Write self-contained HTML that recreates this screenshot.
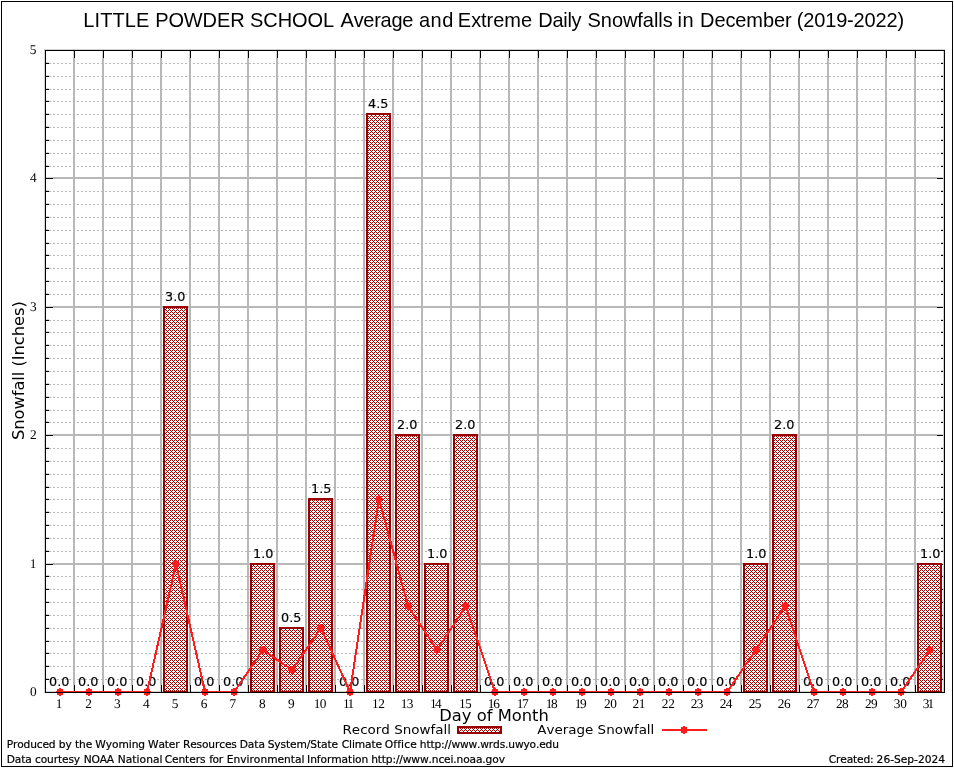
<!DOCTYPE html>
<html lang="en"><head><meta charset="utf-8">
<title>LITTLE POWDER SCHOOL Average and Extreme Daily Snowfalls in December (2019-2022)</title>
<style>
html,body{margin:0;padding:0;background:#fff;}
body{width:954px;height:768px;overflow:hidden;}
svg{display:block;}
text{fill:#000;font-kerning:none;font-variant-ligatures:none;white-space:pre;}
.t{font-family:"Liberation Sans",sans-serif;font-size:20px;}
.k{font-family:"Liberation Serif",serif;font-size:13.33px;text-rendering:geometricPrecision;}
.d{font-family:"DejaVu Sans","Liberation Sans",sans-serif;font-size:12px;stroke:#000;stroke-width:0.15px;}
.a{font-family:"DejaVu Sans","Liberation Sans",sans-serif;font-size:16px;}
.l{font-family:"DejaVu Sans","Liberation Sans",sans-serif;font-size:12px;}
.f{font-family:"DejaVu Sans","Liberation Sans",sans-serif;font-size:10.67px;stroke:#000;stroke-width:0.2px;}
</style></head><body>
<svg width="954" height="768" viewBox="0 0 954 768">
<defs><pattern id="h" x="0" y="0" width="4" height="4" patternUnits="userSpaceOnUse"><rect width="4" height="4" fill="#fff"/><path d="M0 0h1v1h-1zM2 0h1v1h-1zM1 1h1v1h-1zM0 2h1v1h-1zM2 2h1v1h-1zM3 3h1v1h-1z" fill="#990000"/></pattern></defs>
<rect x="0" y="0" width="954" height="768" fill="#fff"/>
<g id="chart">
<rect x="2" y="2" width="950" height="764" fill="#fff"/>
<g id="grid" shape-rendering="crispEdges" fill="none">
<path d="M49 679.5H944M49 666.5H944M49 653.5H944M49 641.5H944M49 628.5H944M49 615.5H944M49 602.5H944M49 589.5H944M49 576.5H944M49 551.5H944M49 538.5H944M49 525.5H944M49 512.5H944M49 499.5H944M49 487.5H944M49 474.5H944M49 461.5H944M49 448.5H944M49 422.5H944M49 410.5H944M49 397.5H944M49 384.5H944M49 371.5H944M49 358.5H944M49 345.5H944M49 332.5H944M49 320.5H944M49 294.5H944M49 281.5H944M49 268.5H944M49 255.5H944M49 243.5H944M49 230.5H944M49 217.5H944M49 204.5H944M49 191.5H944M49 166.5H944M49 153.5H944M49 140.5H944M49 127.5H944M49 114.5H944M49 101.5H944M49 89.5H944M49 76.5H944M49 63.5H944" stroke="#b8b8b8" stroke-width="1" stroke-dasharray="2 2"/>
<path d="M74 684v1M103 684v1M132 684v1M161 684v1M190 684v1M219 684v1M248 684v1M277 684v1M306 684v1M335 684v1M364 684v1M393 684v1M422 684v1M451 684v1M480 684v1M509 684v1M538 684v1M567 684v1M596 684v1M625 684v1M654 684v1M683 684v1M712 684v1M741 684v1M770 684v1M799 684v1M828 684v1M857 684v1M886 684v1M915 684v1M53 564h1M936 564h1M53 435h1M936 435h1M53 307h1M936 307h1M53 178h1M936 178h1" stroke="#b8b8b8" stroke-width="2"/>
<path d="M74 58V684M103 58V684M132 58V684M161 58V684M190 58V684M219 58V684M248 58V684M277 58V684M306 58V684M335 58V684M364 58V684M393 58V684M422 58V684M451 58V684M480 58V684M509 58V684M538 58V684M567 58V684M596 58V684M625 58V684M654 58V684M683 58V684M712 58V684M741 58V684M770 58V684M799 58V684M828 58V684M857 58V684M886 58V684M915 58V684M54 564H936M54 435H936M54 307H936M54 178H936" stroke="#b8b8b8" stroke-width="2"/>
</g>
<g id="ticks" shape-rendering="crispEdges" fill="none" stroke="#000" stroke-width="1">
<path d="M73.5 51v7M73.5 692v-7M102.5 51v7M102.5 692v-7M131.5 51v7M131.5 692v-7M160.5 51v7M160.5 692v-7M189.5 51v7M189.5 692v-7M218.5 51v7M218.5 692v-7M247.5 51v7M247.5 692v-7M276.5 51v7M276.5 692v-7M305.5 51v7M305.5 692v-7M334.5 51v7M334.5 692v-7M363.5 51v7M363.5 692v-7M392.5 51v7M392.5 692v-7M421.5 51v7M421.5 692v-7M450.5 51v7M450.5 692v-7M479.5 51v7M479.5 692v-7M508.5 51v7M508.5 692v-7M537.5 51v7M537.5 692v-7M566.5 51v7M566.5 692v-7M595.5 51v7M595.5 692v-7M624.5 51v7M624.5 692v-7M653.5 51v7M653.5 692v-7M682.5 51v7M682.5 692v-7M711.5 51v7M711.5 692v-7M740.5 51v7M740.5 692v-7M769.5 51v7M769.5 692v-7M798.5 51v7M798.5 692v-7M827.5 51v7M827.5 692v-7M856.5 51v7M856.5 692v-7M885.5 51v7M885.5 692v-7M914.5 51v7M914.5 692v-7M46 678.5h3M943 678.5h-2M46 665.5h3M943 665.5h-2M46 652.5h3M943 652.5h-2M46 640.5h3M943 640.5h-2M46 627.5h3M943 627.5h-2M46 614.5h3M943 614.5h-2M46 601.5h3M943 601.5h-2M46 588.5h3M943 588.5h-2M46 575.5h3M943 575.5h-2M46 563.5h7M943 563.5h-6M46 550.5h3M943 550.5h-2M46 537.5h3M943 537.5h-2M46 524.5h3M943 524.5h-2M46 511.5h3M943 511.5h-2M46 498.5h3M943 498.5h-2M46 486.5h3M943 486.5h-2M46 473.5h3M943 473.5h-2M46 460.5h3M943 460.5h-2M46 447.5h3M943 447.5h-2M46 434.5h7M943 434.5h-6M46 421.5h3M943 421.5h-2M46 409.5h3M943 409.5h-2M46 396.5h3M943 396.5h-2M46 383.5h3M943 383.5h-2M46 370.5h3M943 370.5h-2M46 357.5h3M943 357.5h-2M46 344.5h3M943 344.5h-2M46 331.5h3M943 331.5h-2M46 319.5h3M943 319.5h-2M46 306.5h7M943 306.5h-6M46 293.5h3M943 293.5h-2M46 280.5h3M943 280.5h-2M46 267.5h3M943 267.5h-2M46 254.5h3M943 254.5h-2M46 242.5h3M943 242.5h-2M46 229.5h3M943 229.5h-2M46 216.5h3M943 216.5h-2M46 203.5h3M943 203.5h-2M46 190.5h3M943 190.5h-2M46 177.5h7M943 177.5h-6M46 165.5h3M943 165.5h-2M46 152.5h3M943 152.5h-2M46 139.5h3M943 139.5h-2M46 126.5h3M943 126.5h-2M46 113.5h3M943 113.5h-2M46 100.5h3M943 100.5h-2M46 88.5h3M943 88.5h-2M46 75.5h3M943 75.5h-2M46 62.5h3M943 62.5h-2M44.5 49V693M943.5 51V692M45 49.5H945M46 691.5H943" stroke-opacity="0.18"/>
<path d="M74.5 50v8M74.5 693v-8M103.5 50v8M103.5 693v-8M132.5 50v8M132.5 693v-8M161.5 50v8M161.5 693v-8M190.5 50v8M190.5 693v-8M219.5 50v8M219.5 693v-8M248.5 50v8M248.5 693v-8M277.5 50v8M277.5 693v-8M306.5 50v8M306.5 693v-8M335.5 50v8M335.5 693v-8M364.5 50v8M364.5 693v-8M393.5 50v8M393.5 693v-8M422.5 50v8M422.5 693v-8M451.5 50v8M451.5 693v-8M480.5 50v8M480.5 693v-8M509.5 50v8M509.5 693v-8M538.5 50v8M538.5 693v-8M567.5 50v8M567.5 693v-8M596.5 50v8M596.5 693v-8M625.5 50v8M625.5 693v-8M654.5 50v8M654.5 693v-8M683.5 50v8M683.5 693v-8M712.5 50v8M712.5 693v-8M741.5 50v8M741.5 693v-8M770.5 50v8M770.5 693v-8M799.5 50v8M799.5 693v-8M828.5 50v8M828.5 693v-8M857.5 50v8M857.5 693v-8M886.5 50v8M886.5 693v-8M915.5 50v8M915.5 693v-8M45 692.5h8M943 692.5h-6M45 679.5h4M943 679.5h-2M45 666.5h4M943 666.5h-2M45 653.5h4M943 653.5h-2M45 641.5h4M943 641.5h-2M45 628.5h4M943 628.5h-2M45 615.5h4M943 615.5h-2M45 602.5h4M943 602.5h-2M45 589.5h4M943 589.5h-2M45 576.5h4M943 576.5h-2M45 564.5h8M943 564.5h-6M45 551.5h4M943 551.5h-2M45 538.5h4M943 538.5h-2M45 525.5h4M943 525.5h-2M45 512.5h4M943 512.5h-2M45 499.5h4M943 499.5h-2M45 487.5h4M943 487.5h-2M45 474.5h4M943 474.5h-2M45 461.5h4M943 461.5h-2M45 448.5h4M943 448.5h-2M45 435.5h8M943 435.5h-6M45 422.5h4M943 422.5h-2M45 410.5h4M943 410.5h-2M45 397.5h4M943 397.5h-2M45 384.5h4M943 384.5h-2M45 371.5h4M943 371.5h-2M45 358.5h4M943 358.5h-2M45 345.5h4M943 345.5h-2M45 332.5h4M943 332.5h-2M45 320.5h4M943 320.5h-2M45 307.5h8M943 307.5h-6M45 294.5h4M943 294.5h-2M45 281.5h4M943 281.5h-2M45 268.5h4M943 268.5h-2M45 255.5h4M943 255.5h-2M45 243.5h4M943 243.5h-2M45 230.5h4M943 230.5h-2M45 217.5h4M943 217.5h-2M45 204.5h4M943 204.5h-2M45 191.5h4M943 191.5h-2M45 178.5h8M943 178.5h-6M45 166.5h4M943 166.5h-2M45 153.5h4M943 153.5h-2M45 140.5h4M943 140.5h-2M45 127.5h4M943 127.5h-2M45 114.5h4M943 114.5h-2M45 101.5h4M943 101.5h-2M45 89.5h4M943 89.5h-2M45 76.5h4M943 76.5h-2M45 63.5h4M943 63.5h-2M45 50.5h8M943 50.5h-6"/>
</g>
<g id="bars" shape-rendering="crispEdges" fill="url(#h)" stroke="#990000" stroke-width="2">
<rect x="164" y="307" width="23" height="385"/>
<rect x="251" y="564" width="23" height="128"/>
<rect x="280" y="628" width="23" height="64"/>
<rect x="309" y="499" width="23" height="193"/>
<rect x="367" y="114" width="23" height="578"/>
<rect x="396" y="435" width="23" height="257"/>
<rect x="425" y="564" width="23" height="128"/>
<rect x="454" y="435" width="23" height="257"/>
<rect x="744" y="564" width="23" height="128"/>
<rect x="773" y="435" width="23" height="257"/>
<rect x="918" y="564" width="23" height="128"/>
</g>
<g id="values" class="d">
<text x="49" y="686" textLength="20.4" lengthAdjust="spacingAndGlyphs">0.0</text>
<text x="78" y="686" textLength="20.4" lengthAdjust="spacingAndGlyphs">0.0</text>
<text x="107" y="686" textLength="20.4" lengthAdjust="spacingAndGlyphs">0.0</text>
<text x="136" y="686" textLength="20.4" lengthAdjust="spacingAndGlyphs">0.0</text>
<text x="165" y="301" textLength="20.4" lengthAdjust="spacingAndGlyphs">3.0</text>
<text x="194" y="686" textLength="20.4" lengthAdjust="spacingAndGlyphs">0.0</text>
<text x="223" y="686" textLength="20.4" lengthAdjust="spacingAndGlyphs">0.0</text>
<text x="253.1" y="558" textLength="20.4" lengthAdjust="spacingAndGlyphs">1.0</text>
<text x="281" y="622" textLength="20.4" lengthAdjust="spacingAndGlyphs">0.5</text>
<text x="311.1" y="493" textLength="20.4" lengthAdjust="spacingAndGlyphs">1.5</text>
<text x="339" y="686" textLength="20.4" lengthAdjust="spacingAndGlyphs">0.0</text>
<text x="368" y="108" textLength="20.4" lengthAdjust="spacingAndGlyphs">4.5</text>
<text x="397" y="429" textLength="20.4" lengthAdjust="spacingAndGlyphs">2.0</text>
<text x="427.1" y="558" textLength="20.4" lengthAdjust="spacingAndGlyphs">1.0</text>
<text x="455" y="429" textLength="20.4" lengthAdjust="spacingAndGlyphs">2.0</text>
<text x="484" y="686" textLength="20.4" lengthAdjust="spacingAndGlyphs">0.0</text>
<text x="513" y="686" textLength="20.4" lengthAdjust="spacingAndGlyphs">0.0</text>
<text x="542" y="686" textLength="20.4" lengthAdjust="spacingAndGlyphs">0.0</text>
<text x="571" y="686" textLength="20.4" lengthAdjust="spacingAndGlyphs">0.0</text>
<text x="600" y="686" textLength="20.4" lengthAdjust="spacingAndGlyphs">0.0</text>
<text x="629" y="686" textLength="20.4" lengthAdjust="spacingAndGlyphs">0.0</text>
<text x="658" y="686" textLength="20.4" lengthAdjust="spacingAndGlyphs">0.0</text>
<text x="687" y="686" textLength="20.4" lengthAdjust="spacingAndGlyphs">0.0</text>
<text x="716" y="686" textLength="20.4" lengthAdjust="spacingAndGlyphs">0.0</text>
<text x="746.1" y="558" textLength="20.4" lengthAdjust="spacingAndGlyphs">1.0</text>
<text x="774" y="429" textLength="20.4" lengthAdjust="spacingAndGlyphs">2.0</text>
<text x="803" y="686" textLength="20.4" lengthAdjust="spacingAndGlyphs">0.0</text>
<text x="832" y="686" textLength="20.4" lengthAdjust="spacingAndGlyphs">0.0</text>
<text x="861" y="686" textLength="20.4" lengthAdjust="spacingAndGlyphs">0.0</text>
<text x="890" y="686" textLength="20.4" lengthAdjust="spacingAndGlyphs">0.0</text>
<text x="920.1" y="558" textLength="20.4" lengthAdjust="spacingAndGlyphs">1.0</text>
</g>
<g id="avg" shape-rendering="crispEdges">
<polyline points="60,692 89,692 118,692 147,692 176,564 205,692 234,692 263,650 292,670 321,628 350,692 379,499 408,606 437,650 466,606 495,692 524,692 553,692 582,692 611,692 640,692 669,692 698,692 727,692 756,650 785,606 814,692 843,692 872,692 901,692 930,650" fill="none" stroke="#ff1c1c" stroke-width="2" stroke-linejoin="round"/>
<path transform="translate(60 692)" d="M-1 -4h2v1h2v2h1v2h-1v2h-2v1h-2v-1h-2v-2h-1v-2h1v-2h2z" fill="#ff1c1c"/>
<path transform="translate(89 692)" d="M-1 -4h2v1h2v2h1v2h-1v2h-2v1h-2v-1h-2v-2h-1v-2h1v-2h2z" fill="#ff1c1c"/>
<path transform="translate(118 692)" d="M-1 -4h2v1h2v2h1v2h-1v2h-2v1h-2v-1h-2v-2h-1v-2h1v-2h2z" fill="#ff1c1c"/>
<path transform="translate(147 692)" d="M-1 -4h2v1h2v2h1v2h-1v2h-2v1h-2v-1h-2v-2h-1v-2h1v-2h2z" fill="#ff1c1c"/>
<path transform="translate(176 564)" d="M-1 -4h2v1h2v2h1v2h-1v2h-2v1h-2v-1h-2v-2h-1v-2h1v-2h2z" fill="#ff1c1c"/>
<path transform="translate(205 692)" d="M-1 -4h2v1h2v2h1v2h-1v2h-2v1h-2v-1h-2v-2h-1v-2h1v-2h2z" fill="#ff1c1c"/>
<path transform="translate(234 692)" d="M-1 -4h2v1h2v2h1v2h-1v2h-2v1h-2v-1h-2v-2h-1v-2h1v-2h2z" fill="#ff1c1c"/>
<path transform="translate(263 650)" d="M-1 -4h2v1h2v2h1v2h-1v2h-2v1h-2v-1h-2v-2h-1v-2h1v-2h2z" fill="#ff1c1c"/>
<path transform="translate(292 670)" d="M-1 -4h2v1h2v2h1v2h-1v2h-2v1h-2v-1h-2v-2h-1v-2h1v-2h2z" fill="#ff1c1c"/>
<path transform="translate(321 628)" d="M-1 -4h2v1h2v2h1v2h-1v2h-2v1h-2v-1h-2v-2h-1v-2h1v-2h2z" fill="#ff1c1c"/>
<path transform="translate(350 692)" d="M-1 -4h2v1h2v2h1v2h-1v2h-2v1h-2v-1h-2v-2h-1v-2h1v-2h2z" fill="#ff1c1c"/>
<path transform="translate(379 499)" d="M-1 -4h2v1h2v2h1v2h-1v2h-2v1h-2v-1h-2v-2h-1v-2h1v-2h2z" fill="#ff1c1c"/>
<path transform="translate(408 606)" d="M-1 -4h2v1h2v2h1v2h-1v2h-2v1h-2v-1h-2v-2h-1v-2h1v-2h2z" fill="#ff1c1c"/>
<path transform="translate(437 650)" d="M-1 -4h2v1h2v2h1v2h-1v2h-2v1h-2v-1h-2v-2h-1v-2h1v-2h2z" fill="#ff1c1c"/>
<path transform="translate(466 606)" d="M-1 -4h2v1h2v2h1v2h-1v2h-2v1h-2v-1h-2v-2h-1v-2h1v-2h2z" fill="#ff1c1c"/>
<path transform="translate(495 692)" d="M-1 -4h2v1h2v2h1v2h-1v2h-2v1h-2v-1h-2v-2h-1v-2h1v-2h2z" fill="#ff1c1c"/>
<path transform="translate(524 692)" d="M-1 -4h2v1h2v2h1v2h-1v2h-2v1h-2v-1h-2v-2h-1v-2h1v-2h2z" fill="#ff1c1c"/>
<path transform="translate(553 692)" d="M-1 -4h2v1h2v2h1v2h-1v2h-2v1h-2v-1h-2v-2h-1v-2h1v-2h2z" fill="#ff1c1c"/>
<path transform="translate(582 692)" d="M-1 -4h2v1h2v2h1v2h-1v2h-2v1h-2v-1h-2v-2h-1v-2h1v-2h2z" fill="#ff1c1c"/>
<path transform="translate(611 692)" d="M-1 -4h2v1h2v2h1v2h-1v2h-2v1h-2v-1h-2v-2h-1v-2h1v-2h2z" fill="#ff1c1c"/>
<path transform="translate(640 692)" d="M-1 -4h2v1h2v2h1v2h-1v2h-2v1h-2v-1h-2v-2h-1v-2h1v-2h2z" fill="#ff1c1c"/>
<path transform="translate(669 692)" d="M-1 -4h2v1h2v2h1v2h-1v2h-2v1h-2v-1h-2v-2h-1v-2h1v-2h2z" fill="#ff1c1c"/>
<path transform="translate(698 692)" d="M-1 -4h2v1h2v2h1v2h-1v2h-2v1h-2v-1h-2v-2h-1v-2h1v-2h2z" fill="#ff1c1c"/>
<path transform="translate(727 692)" d="M-1 -4h2v1h2v2h1v2h-1v2h-2v1h-2v-1h-2v-2h-1v-2h1v-2h2z" fill="#ff1c1c"/>
<path transform="translate(756 650)" d="M-1 -4h2v1h2v2h1v2h-1v2h-2v1h-2v-1h-2v-2h-1v-2h1v-2h2z" fill="#ff1c1c"/>
<path transform="translate(785 606)" d="M-1 -4h2v1h2v2h1v2h-1v2h-2v1h-2v-1h-2v-2h-1v-2h1v-2h2z" fill="#ff1c1c"/>
<path transform="translate(814 692)" d="M-1 -4h2v1h2v2h1v2h-1v2h-2v1h-2v-1h-2v-2h-1v-2h1v-2h2z" fill="#ff1c1c"/>
<path transform="translate(843 692)" d="M-1 -4h2v1h2v2h1v2h-1v2h-2v1h-2v-1h-2v-2h-1v-2h1v-2h2z" fill="#ff1c1c"/>
<path transform="translate(872 692)" d="M-1 -4h2v1h2v2h1v2h-1v2h-2v1h-2v-1h-2v-2h-1v-2h1v-2h2z" fill="#ff1c1c"/>
<path transform="translate(901 692)" d="M-1 -4h2v1h2v2h1v2h-1v2h-2v1h-2v-1h-2v-2h-1v-2h1v-2h2z" fill="#ff1c1c"/>
<path transform="translate(930 650)" d="M-1 -4h2v1h2v2h1v2h-1v2h-2v1h-2v-1h-2v-2h-1v-2h1v-2h2z" fill="#ff1c1c"/>
</g>
<g id="axes" shape-rendering="crispEdges" fill="none" stroke="#000" stroke-width="1">
<rect x="45.5" y="50.5" width="899" height="642"/>
</g>
<g id="xticks" class="k">
<text x="55.83" y="708">1</text>
<text x="85.14" y="708">2</text>
<text x="113.91" y="708">3</text>
<text x="142.89" y="708">4</text>
<text x="171.74" y="708">5</text>
<text x="200.83" y="708">6</text>
<text x="229.52" y="708">7</text>
<text x="259.02" y="708">8</text>
<text x="287.88" y="708">9</text>
<text x="313.83 319.74" y="708">10</text>
<text x="343.03 347.43" y="708">11</text>
<text x="371.93 378.27" y="708">12</text>
<text x="400.73 406.86" y="708">13</text>
<text x="429.93 435.04" y="708">14</text>
<text x="458.93 464.96" y="708">15</text>
<text x="487.83 493.13" y="708">16</text>
<text x="516.83 521.92" y="708">17</text>
<text x="545.73 551.04" y="708">18</text>
<text x="574.63 579.98" y="708">19</text>
<text x="604.01 610.14" y="708">20</text>
<text x="632.61 638.83" y="708">21</text>
<text x="661.81 668.17" y="708">22</text>
<text x="690.81 696.86" y="708">23</text>
<text x="719.71 725.74" y="708">24</text>
<text x="748.81 754.86" y="708">25</text>
<text x="777.81 784.03" y="708">26</text>
<text x="806.71 812.72" y="708">27</text>
<text x="836.01 842.04" y="708">28</text>
<text x="865.01 871.08" y="708">29</text>
<text x="893.66 900.24" y="708">30</text>
<text x="922.86 927.53" y="708">31</text>
</g>
<g id="yticks" class="k">
<text x="29.97" y="696">0</text>
<text x="29.78" y="568">1</text>
<text x="30.04" y="439">2</text>
<text x="29.91" y="311">3</text>
<text x="29.94" y="182">4</text>
<text x="29.84" y="54">5</text>
</g>
<text class="t" transform="matrix(1 0 0 1.05 0 27)" y="0"><tspan x="83.36" style="letter-spacing:0.065px">LITTLE </tspan><tspan x="155.16" style="letter-spacing:-0.106px">POWDER </tspan><tspan x="249.99" style="letter-spacing:-0.038px">SCHOOL </tspan><tspan x="340.56" style="letter-spacing:-0.261px">Average </tspan><tspan x="418.95" style="letter-spacing:0.485px">and </tspan><tspan x="457.86" style="letter-spacing:-0.039px">Extreme </tspan><tspan x="538.36" style="letter-spacing:-0.318px">Daily </tspan><tspan x="587.59" style="letter-spacing:-0.058px">Snowfalls </tspan><tspan x="677.46" style="letter-spacing:0.670px">in </tspan><tspan x="700.06" style="letter-spacing:-0.098px">December </tspan><tspan x="796.76" style="letter-spacing:-0.158px">(2019-2022)</tspan></text>
<text class="a" x="439.3" y="721" textLength="109.49" lengthAdjust="spacingAndGlyphs">Day of Month</text>
<text class="a" transform="translate(24 439) rotate(-90)" x="-1.07" y="0" textLength="138.86" lengthAdjust="spacingAndGlyphs">Snowfall (Inches)</text>
<text class="l" x="342.48" y="734" textLength="108.59" lengthAdjust="spacingAndGlyphs">Record Snowfall</text>
<rect x="458" y="727" width="43" height="6" fill="url(#h)" stroke="#990000" stroke-width="2" shape-rendering="crispEdges"/>
<text class="l" x="537.29" y="734" textLength="117.07" lengthAdjust="spacingAndGlyphs">Average Snowfall</text>
<path d="M662 730H707" stroke="#ff1c1c" stroke-width="2" fill="none" shape-rendering="crispEdges"/>
<path transform="translate(684 730)" d="M-1 -4h2v1h2v2h1v2h-1v2h-2v1h-2v-1h-2v-2h-1v-2h1v-2h2z" fill="#ff1c1c" shape-rendering="crispEdges"/>
<text class="f" y="748"><tspan x="6.75" style="letter-spacing:-0.167px">Produced </tspan><tspan x="58.73" style="letter-spacing:-0.101px">by </tspan><tspan x="74.91" style="letter-spacing:-0.028px">the </tspan><tspan x="95.25" style="letter-spacing:-0.061px">Wyoming </tspan><tspan x="148.05" style="letter-spacing:-0.167px">Water </tspan><tspan x="182.95" style="letter-spacing:-0.155px">Resources </tspan><tspan x="239.75" style="letter-spacing:-0.087px">Data </tspan><tspan x="267.7" style="letter-spacing:-0.096px">System/State </tspan><tspan x="341.7" style="letter-spacing:-0.099px">Climate </tspan><tspan x="384.7" style="letter-spacing:0.152px">Office </tspan><tspan x="419.83" style="letter-spacing:-0.156px">http://www.wrds.uwyo.edu</tspan></text>
<text class="f" y="763"><tspan x="6.75" style="letter-spacing:-0.153px">Data </tspan><tspan x="35.01" style="letter-spacing:-0.137px">courtesy </tspan><tspan x="83.85" style="letter-spacing:-0.281px">NOAA </tspan><tspan x="117.75" style="letter-spacing:0.055px">National </tspan><tspan x="164.7" style="letter-spacing:-0.109px">Centers </tspan><tspan x="209.16" style="letter-spacing:-0.313px">for </tspan><tspan x="226.75" style="letter-spacing:-0.002px">Environmental </tspan><tspan x="307.05" style="letter-spacing:-0.060px">Information </tspan><tspan x="371.13" style="letter-spacing:-0.139px">http://www.ncei.noaa.gov</tspan></text>
<text class="f" y="763"><tspan x="828.8" style="letter-spacing:-0.173px">Created: </tspan><tspan x="876.62" style="letter-spacing:0.004px">26-Sep-2024</tspan></text>
</g>
<g id="frame" shape-rendering="crispEdges">
<rect x="1.5" y="1.5" width="951" height="765" fill="none" stroke="#000" stroke-width="1"/>
</g>
</svg>
</body></html>
